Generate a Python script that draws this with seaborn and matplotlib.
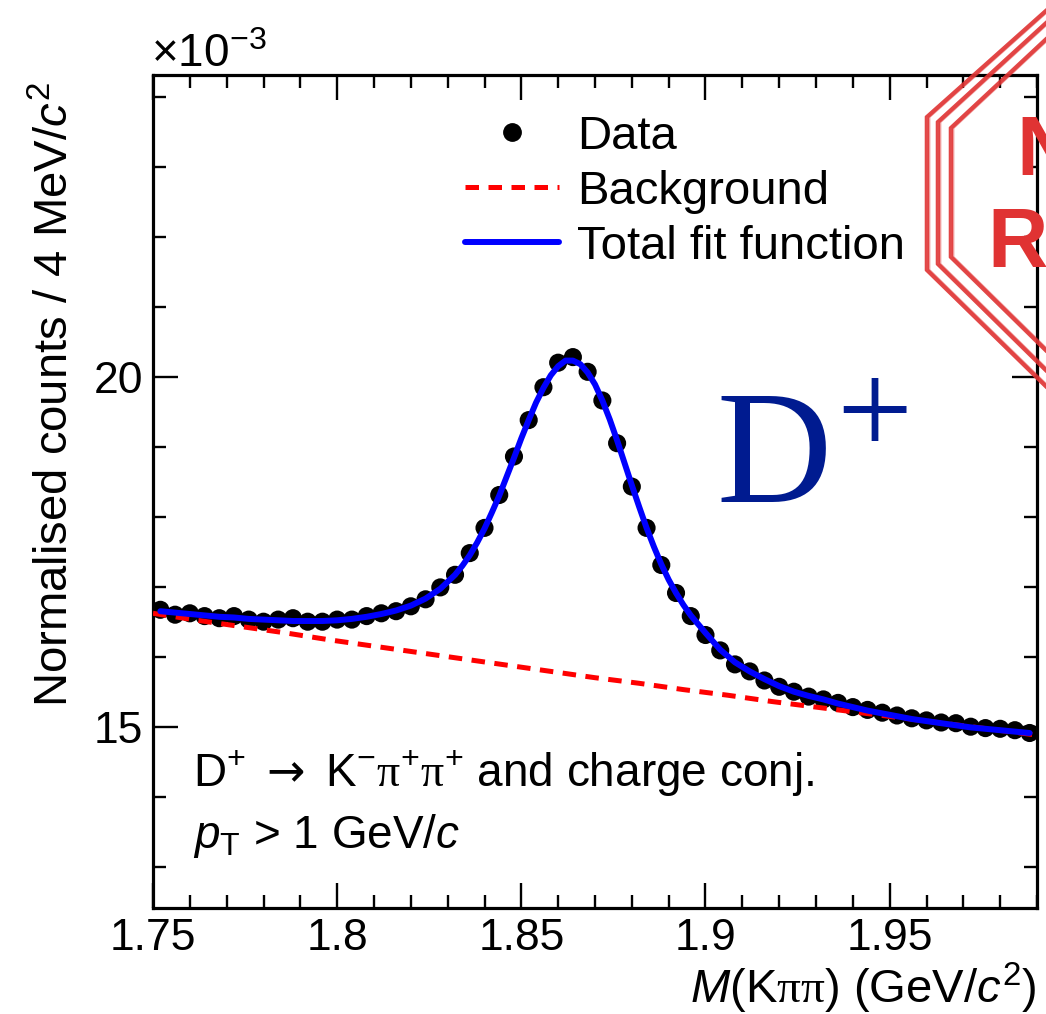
import numpy as np
import pandas as pd
import matplotlib
matplotlib.use("Agg")
import matplotlib.pyplot as plt
from matplotlib.lines import Line2D
from matplotlib.ticker import MultipleLocator, FuncFormatter
import seaborn as sns

# ---- data (counts in units of 1e-3) ----
bin_centres = np.round(1.752 + 0.004 * np.arange(60), 3)

counts = [16.67, 16.60, 16.62, 16.58, 16.55, 16.58, 16.53, 16.50, 16.53, 16.55,
          16.50, 16.50, 16.53, 16.53, 16.58, 16.62, 16.65, 16.72, 16.82, 16.99,
          17.17, 17.48, 17.84, 18.31, 18.86, 19.38, 19.85, 20.20, 20.28, 20.07,
          19.66, 19.05, 18.43, 17.84, 17.31, 16.91, 16.58, 16.31, 16.09, 15.89,
          15.79, 15.66, 15.57, 15.50, 15.43, 15.39, 15.34, 15.28, 15.24, 15.20,
          15.16, 15.12, 15.09, 15.06, 15.05, 15.00, 14.98, 14.97, 14.95, 14.91]

# total fit evaluated at the bin centres
fit_at_centres = [16.65, 16.63, 16.61, 16.59, 16.57, 16.56, 16.54, 16.53, 16.52, 16.51,
                  16.51, 16.51, 16.52, 16.54, 16.57, 16.61, 16.66, 16.73, 16.83, 16.97,
                  17.17, 17.45, 17.83, 18.30, 18.84, 19.38, 19.84, 20.15, 20.23, 20.06,
                  19.66, 19.09, 18.45, 17.84, 17.32, 16.91, 16.59, 16.34, 16.10, 15.92,
                  15.79, 15.68, 15.58, 15.50, 15.44, 15.39, 15.33, 15.28, 15.23, 15.19,
                  15.15, 15.11, 15.08, 15.05, 15.02, 14.99, 14.97, 14.95, 14.93, 14.91]

# extra fit samples between bin centres around the peak
peak_mass = [1.834, 1.838, 1.842, 1.846, 1.850, 1.854, 1.858, 1.862,
             1.866, 1.870, 1.874, 1.878, 1.882, 1.886, 1.890, 1.894]
peak_fit = [17.30, 17.63, 18.06, 18.57, 19.12, 19.63, 20.02, 20.23,
            20.18, 19.89, 19.39, 18.77, 18.14, 17.57, 17.10, 16.74]

bkg_mass = [1.750, 1.762, 1.774, 1.786, 1.798, 1.810, 1.822, 1.834, 1.846, 1.858, 1.870,
            1.882, 1.894, 1.906, 1.918, 1.930, 1.942, 1.954, 1.966, 1.978, 1.990]
bkg_vals = [16.62, 16.52, 16.43, 16.34, 16.24, 16.15, 16.06, 15.97, 15.88, 15.79, 15.70,
            15.62, 15.53, 15.45, 15.36, 15.28, 15.20, 15.12, 15.04, 14.96, 14.88]

x_ticks = [1.75, 1.80, 1.85, 1.90, 1.95]
y_ticks = [15, 20]

data_df = pd.DataFrame({"mass": bin_centres, "counts": counts})
fit_df = (pd.DataFrame({"mass": np.concatenate([bin_centres, peak_mass]),
                        "fit": np.concatenate([fit_at_centres, peak_fit])})
          .sort_values("mass"))
bkg_df = pd.DataFrame({"mass": bkg_mass, "bkg": bkg_vals})

# ---- style ----
sns.set_theme(style="ticks")
plt.rcParams["font.family"] = ["Liberation Sans", "DejaVu Sans"]
plt.rcParams["text.color"] = "black"
plt.rcParams["axes.labelcolor"] = "black"
plt.rcParams["xtick.color"] = "black"
plt.rcParams["ytick.color"] = "black"
plt.rcParams["mathtext.fontset"] = "custom"
plt.rcParams["mathtext.rm"] = "Liberation Sans"
plt.rcParams["mathtext.it"] = "Liberation Sans:italic"
plt.rcParams["mathtext.bf"] = "Liberation Sans:bold"
plt.rcParams["mathtext.sf"] = "Liberation Serif"   # upright serif pi
plt.rcParams["mathtext.tt"] = "DejaVu Sans"        # wide arrow glyph

W, H = 1046, 1014
fig = plt.figure(figsize=(W / 100, H / 100), dpi=100)
fig.patch.set_facecolor("white")
ax = fig.add_axes([153 / W, 1 - 908 / H, (1037 - 153) / W, (908 - 75) / H])
ax.set_facecolor("white")

sns.scatterplot(data=data_df, x="mass", y="counts", color="black", s=170,
                edgecolor="none", linewidth=0, ax=ax, zorder=3, legend=False)
sns.lineplot(data=bkg_df, x="mass", y="bkg", color="red", lw=3.6, sort=False,
             estimator=None, ax=ax, zorder=4, linestyle=(0, (2.7, 1.9)))
sns.lineplot(data=fit_df, x="mass", y="fit", color="blue", lw=4.3, sort=False,
             estimator=None, ax=ax, zorder=5)

ax.set_xlim(1.75, 1.99)
ax.set_ylim(12.41, 24.31)
ax.set_xlabel("")
ax.set_ylabel("")
ax.set_xticks(x_ticks)
ax.set_yticks(y_ticks)
ax.xaxis.set_minor_locator(MultipleLocator(0.01))
ax.yaxis.set_minor_locator(MultipleLocator(1))
ax.xaxis.set_major_formatter(FuncFormatter(lambda v, p: f"{v:g}"))
ax.yaxis.set_major_formatter(FuncFormatter(lambda v, p: f"{v:g}"))
ax.tick_params(which="both", direction="in", top=True, right=True,
               width=1.7, color="black", labelsize=32, labelcolor="black")
ax.tick_params(which="major", length=18, pad=7)
ax.tick_params(which="minor", length=9.4)
for sp in ax.spines.values():
    sp.set_visible(True)
    sp.set_linewidth(2.3)
    sp.set_color("black")

# legend
handles = [
    Line2D([], [], marker="o", ls="none", color="black", markersize=12.5),
    Line2D([], [], color="red", lw=3.6, linestyle=(0, (2.7, 1.9))),
    Line2D([], [], color="blue", lw=4.3),
]
ax.legend(handles, ["Data", "Background", "Total fit function"],
          loc="upper left", bbox_to_anchor=(0.353, 0.952), frameon=False,
          fontsize=34, handlelength=2.0, handletextpad=0.38, labelspacing=0.23,
          borderaxespad=0, borderpad=0, labelcolor="black")

# axis titles and labels
fig.text(151 / W, 1 - 67 / H, r"$\times$10$^{-3}$", fontsize=33, ha="left", va="baseline")
fig.text(56 / W, 1 - 82 / H, r"Normalised counts / 4 MeV/$c^{2}$", fontsize=34,
         rotation=90, ha="center", va="top")
fig.text(1037 / W, 1 - 1003 / H, r"$M$(K$\mathsf{\pi\pi}$) (GeV/$c^{2}$)", fontsize=34,
         ha="right", va="baseline")

fig.text(193 / W, 1 - 787 / H,
         r"D$^{+}$ $\mathtt{\rightarrow}$ K$^{-}\mathsf{\pi}^{+}\mathsf{\pi}^{+}$ and charge conj.",
         fontsize=33, ha="left", va="baseline")
fig.text(193 / W, 1 - 848 / H, r"$p_{\mathrm{T}}$ > 1 GeV/$c$",
         fontsize=33, ha="left", va="baseline")

# particle tag
tag_color = "#001b90"
fig.text(716 / W, 1 - 502 / H, "D", family="Liberation Serif", fontsize=115,
         color=tag_color, ha="left", va="baseline")
fig.text(836 / W, 1 - 455 / H, "+", family="Liberation Serif", fontsize=97,
         color=tag_color, ha="left", va="baseline")

# stamp in the upper-right corner
stamp_color = (0.88, 0.2, 0.2)
strands = [
    [(1075, -15), (927, 117), (927, 270), (1060, 400)],
    [(1080, -8), (938, 122), (938, 264), (1062, 386)],
    [(1086, 2), (951, 128), (951, 257), (1066, 370)],
]
for pts in strands:
    xs = [p[0] / W for p in pts]
    ys = [1 - p[1] / H for p in pts]
    for off, a, lw in [(0.0, 0.85, 3.0), (2.0, 0.45, 2.0), (-1.5, 0.35, 1.5)]:
        fig.add_artist(Line2D([x + off / W for x in xs], ys, transform=fig.transFigure,
                              color=stamp_color, lw=lw, alpha=a, zorder=10,
                              solid_joinstyle="miter"))
fig.text(1016 / W, 1 - 175 / H, "NEW", fontsize=60, fontweight="bold",
         color=stamp_color, ha="left", va="baseline", zorder=10)
fig.text(987 / W, 1 - 267 / H, "RUN", fontsize=60, fontweight="bold",
         color=stamp_color, ha="left", va="baseline", zorder=10)

fig.savefig("out.png", dpi=100)
